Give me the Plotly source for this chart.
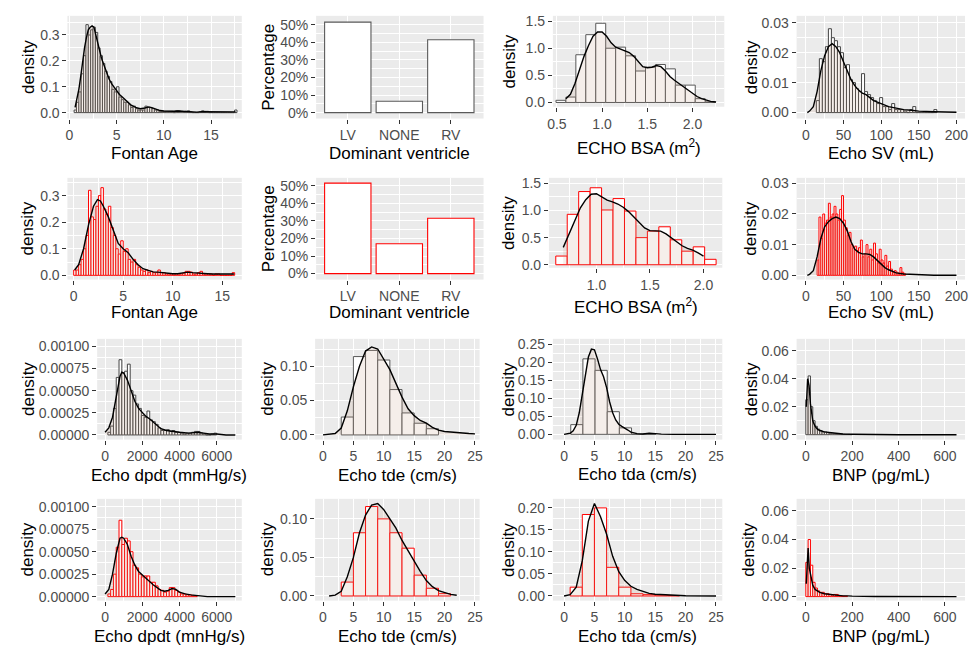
import plotly.graph_objects as go

W, H = 972, 653

# ---------------- data ----------------
# Fontan Age (cohort 1, grey)
fontan1_start, fontan1_width = 0.5, 0.25
fontan1_density = [
    0.01, 0.04, 0.08, 0.15, 0.22, 0.34, 0.30, 0.32,
    0.33, 0.31, 0.25, 0.22, 0.19, 0.16, 0.14, 0.12,
    0.09, 0.08, 0.10, 0.06, 0.05, 0.04, 0.04, 0.03,
    0.02, 0.025, 0.015, 0.01, 0.01, 0.01, 0.025, 0.02,
    0.02, 0.015, 0.01, 0.01, 0.005, 0.005, 0.005, 0.005,
    0.005, 0.005, 0.0, 0.007, 0.007, 0.005, 0.003, 0.005,
    0.007, 0.003, 0.0, 0.0, 0.0, 0.003, 0.007, 0.005,
    0.005, 0.0, 0.0, 0.0, 0.0, 0.0, 0.0, 0.0,
    0.0, 0.0, 0.0, 0.0, 0.01]
fontan1_kx = [0.6, 0.8, 1.0, 1.2, 1.4, 1.6, 1.8, 2.0, 2.2, 2.4, 2.6, 2.8, 3.0, 3.2, 3.4, 3.6, 3.8, 4.0,
              4.2, 4.5, 4.8, 5.0, 5.3, 5.6, 6.0, 6.5, 7.0, 7.5, 8.0, 8.4, 8.8, 9.2, 9.6, 10.0, 10.5,
              11.0, 11.5, 12.0, 12.5, 13.0, 13.5, 14.0, 14.5, 15.0, 16.0, 17.0, 17.6]
fontan1_ky = [0.02, 0.05, 0.09, 0.14, 0.20, 0.25, 0.29, 0.32, 0.33, 0.335, 0.33, 0.30, 0.26, 0.235,
              0.21, 0.19, 0.17, 0.15, 0.13, 0.11, 0.095, 0.085, 0.07, 0.06, 0.045, 0.03, 0.02, 0.015,
              0.018, 0.022, 0.018, 0.012, 0.008, 0.006, 0.005, 0.005, 0.006, 0.005, 0.005, 0.003,
              0.002, 0.004, 0.004, 0.002, 0.002, 0.002, 0.003]

# Fontan Age (cohort 2, red)
fontan2_start, fontan2_width = 0.0, 0.25
fontan2_density = [
    0.02, 0.02, 0.04, 0.06, 0.10, 0.15, 0.32, 0.22,
    0.21, 0.26, 0.30, 0.33, 0.25, 0.23, 0.26, 0.18,
    0.15, 0.10, 0.08, 0.13, 0.09, 0.10, 0.06, 0.05,
    0.06, 0.04, 0.03, 0.02, 0.015, 0.02, 0.01, 0.015,
    0.01, 0.01, 0.02, 0.01, 0.01, 0.005, 0.005, 0.005,
    0.005, 0.005, 0.005, 0.005, 0.008, 0.015, 0.015, 0.012,
    0.005, 0.005, 0.01, 0.015, 0.005, 0.005, 0.005, 0.005,
    0.0, 0.005, 0.005, 0.0, 0.0, 0.0, 0.0, 0.0,
    0.01]
fontan2_kx = [0.1, 0.5, 1.0, 1.5, 2.0, 2.4, 2.7, 3.0, 3.5, 4.0, 4.5, 5.0, 5.5, 6.0, 6.5, 7.0, 7.5,
              8.0, 8.5, 9.0, 9.5, 10.0, 10.5, 11.0, 11.5, 12.0, 12.5, 13.0, 13.5, 14.0, 14.5, 15.0,
              15.5, 16.2]
fontan2_ky = [0.02, 0.04, 0.10, 0.19, 0.26, 0.285, 0.28, 0.26, 0.22, 0.17, 0.12, 0.10, 0.085, 0.06,
              0.04, 0.025, 0.018, 0.013, 0.012, 0.01, 0.007, 0.006, 0.006, 0.008, 0.012, 0.01, 0.008,
              0.008, 0.006, 0.005, 0.005, 0.004, 0.004, 0.005]

# Dominant ventricle
dv_categories = ["LV", "NONE", "RV"]
dv1_pct = [0.515, 0.065, 0.415]
dv2_pct = [0.515, 0.17, 0.315]

# ECHO BSA
bsa1_start, bsa1_width = 0.49, 0.11
bsa1_density = [0.04, 0.10, 0.88, 1.25, 1.46, 1.00, 1.02, 0.86, 0.58, 0.65, 0.70, 0.62, 0.32, 0.32, 0.07, 0.01]
bsa1_kx = [0.6, 0.65, 0.7, 0.75, 0.8, 0.85, 0.9, 0.95, 1.0, 1.05, 1.1, 1.15, 1.2, 1.25, 1.3, 1.35, 1.4,
           1.45, 1.5, 1.55, 1.6, 1.65, 1.7, 1.75, 1.8, 1.85, 1.9, 1.95, 2.0, 2.05, 2.1, 2.15, 2.2, 2.26]
bsa1_ky = [0.07, 0.15, 0.35, 0.60, 0.85, 1.05, 1.22, 1.30, 1.30, 1.22, 1.10, 1.02, 0.99, 0.96, 0.92,
           0.85, 0.75, 0.66, 0.64, 0.65, 0.68, 0.66, 0.58, 0.48, 0.41, 0.35, 0.29, 0.23, 0.16, 0.11,
           0.07, 0.04, 0.02, 0.01]
bsa2_start, bsa2_width = 0.62, 0.107
bsa2_density = [0.16, 0.93, 1.35, 1.42, 1.01, 1.22, 0.99, 0.50, 0.62, 0.70, 0.46, 0.25, 0.33, 0.10]
bsa2_kx = [0.69, 0.75, 0.8, 0.85, 0.9, 0.95, 1.0, 1.05, 1.1, 1.15, 1.2, 1.25, 1.3, 1.35, 1.4, 1.45,
           1.5, 1.55, 1.6, 1.65, 1.7, 1.75, 1.8, 1.85, 1.9, 1.95, 2.0]
bsa2_ky = [0.32, 0.60, 0.85, 1.05, 1.20, 1.30, 1.31, 1.25, 1.19, 1.16, 1.12, 1.06, 0.98, 0.88, 0.78,
           0.68, 0.63, 0.62, 0.62, 0.57, 0.50, 0.43, 0.35, 0.30, 0.27, 0.22, 0.16]

# Echo SV
sv1_start, sv1_width = 14, 4
sv1_density = [
    0.004, 0.018, 0.017, 0.022, 0.028, 0.025, 0.024, 0.022,
    0.020, 0.015, 0.016, 0.011, 0.010, 0.008, 0.007, 0.013,
    0.007, 0.006, 0.005, 0.004, 0.003, 0.005, 0.002, 0.002,
    0.001, 0.003, 0.001, 0.001, 0.001, 0.0005, 0.0, 0.001,
    0.002, 0.0, 0.0, 0.0, 0.0, 0.0, 0.0, 0.001]
sv1_kx = [2, 5, 10, 15, 20, 25, 30, 35, 40, 45, 50, 55, 60, 65, 70, 75, 80, 85, 90, 95, 100, 110,
          120, 130, 140, 150, 170, 200]
sv1_ky = [0.0, 0.0005, 0.002, 0.007, 0.014, 0.019, 0.022, 0.023, 0.022, 0.020, 0.017, 0.014, 0.011,
          0.009, 0.0075, 0.0065, 0.006, 0.005, 0.004, 0.0035, 0.003, 0.002, 0.0015, 0.001, 0.0008,
          0.0005, 0.0003, 0.0001]
sv2_start, sv2_width = 15, 2.5
sv2_density = [
    0.005, 0.019, 0.012, 0.020, 0.017, 0.018, 0.0235, 0.019, 0.020, 0.0225,
    0.020, 0.018, 0.0215, 0.026, 0.018, 0.0155, 0.013, 0.014, 0.010, 0.009,
    0.0095, 0.008, 0.009, 0.0115, 0.006, 0.007, 0.010, 0.006, 0.0085, 0.005,
    0.0105, 0.007, 0.004, 0.0085, 0.005, 0.004, 0.0065, 0.003, 0.0045, 0.002,
    0.001, 0.0015, 0.001, 0.0005, 0.0025, 0.001, 0.0005]
sv2_kx = [2, 5, 10, 15, 20, 25, 30, 35, 40, 45, 50, 55, 60, 65, 70, 75, 80, 85, 90, 95, 100, 105,
          110, 115, 120, 130, 140, 150, 170, 200]
sv2_ky = [0.0, 0.0003, 0.0015, 0.006, 0.012, 0.0158, 0.0175, 0.0185, 0.019, 0.0185, 0.017, 0.0145,
          0.011, 0.0085, 0.0075, 0.007, 0.007, 0.0068, 0.006, 0.0048, 0.0035, 0.0025, 0.0018,
          0.0012, 0.0008, 0.0004, 0.0003, 0.0001, 0.0, 0.0]

# Echo dpdt
dpdt1_start, dpdt1_width = 150, 150
dpdt1_density = [
    0.00003, 0.0001, 0.0003, 0.00065, 0.00085, 0.0007, 0.00072, 0.0008,
    0.0005, 0.00045, 0.00035, 0.0003, 0.00022, 0.0002, 0.00027, 0.00017,
    0.00015, 0.00012, 0.00008, 0.00005, 0.00005, 0.00006, 0.00004, 0.00005,
    0.00003, 0.00003, 0.00002, 0.00001, 0.00002, 0.00002, 0.00003, 0.00004,
    0.00004, 0.00002, 0.00001, 0.0, 0.0, 0.00001, 0.00002]
dpdt1_kx = [0, 200, 400, 600, 800, 900, 1000, 1200, 1400, 1600, 1800, 2000, 2200, 2400, 2600, 2800,
            3000, 3300, 3600, 4000, 4500, 4800, 5000, 5300, 5600, 6000, 6500, 7000]
dpdt1_ky = [0.00003, 0.00008, 0.0002, 0.00045, 0.00066, 0.00071, 0.0007, 0.00062, 0.0005, 0.00038,
            0.0003, 0.00025, 0.00021, 0.00018, 0.00014, 0.0001, 0.00007, 0.00005, 0.00004, 0.00003,
            0.00002, 0.00003, 0.00003, 0.00002, 0.00001, 0.00001, 0.0, 0.0]
dpdt2_start, dpdt2_width = 150, 150
dpdt2_density = [
    0.00003, 0.00008, 0.00025, 0.00055, 0.00085, 0.00058, 0.00065, 0.00062,
    0.0005, 0.00035, 0.00032, 0.00025, 0.00022, 0.00023, 0.00023, 0.00016,
    0.00016, 0.00012, 0.00008, 0.00007, 0.00005, 0.00006, 0.0001, 0.0001,
    0.00007, 0.00005, 0.00003, 0.00003, 0.00002, 0.00002, 0.00001, 0.00001]
dpdt2_kx = [0, 200, 400, 600, 800, 900, 1000, 1200, 1400, 1600, 1800, 2000, 2200, 2400, 2600, 2800,
            3000, 3200, 3400, 3600, 3800, 4000, 4300, 4600, 5000, 5500, 6000, 7000]
dpdt2_ky = [0.00003, 0.00008, 0.00025, 0.00048, 0.00065, 0.00066, 0.00065, 0.00058, 0.00045,
            0.00035, 0.00028, 0.00024, 0.0002, 0.00017, 0.00013, 0.0001, 0.00007, 0.00006, 0.00007,
            0.00009, 0.00008, 0.00005, 0.00003, 0.00002, 0.00001, 0.0, 0.0, 0.0]

# Echo tde
tde1_start, tde1_width = 3, 2
tde1_density = [0.026, 0.114, 0.123, 0.109, 0.066, 0.032, 0.017, 0.009]
tde1_kx = [0, 1, 2, 3, 4, 5, 6, 7, 8, 9, 10, 11, 12, 13, 14, 15, 16, 17, 18, 19, 20, 21, 22, 23, 24, 25]
tde1_ky = [0.0, 0.0005, 0.002, 0.01, 0.035, 0.07, 0.10, 0.122, 0.128, 0.125, 0.11, 0.095, 0.075,
           0.055, 0.038, 0.028, 0.021, 0.017, 0.011, 0.007, 0.005, 0.004, 0.003, 0.0025, 0.002, 0.0015]
tde2_start, tde2_width = 3, 2
tde2_density = [0.018, 0.082, 0.116, 0.10, 0.082, 0.062, 0.027, 0.01, 0.003]
tde2_kx = [1, 2, 3, 4, 5, 6, 7, 8, 9, 10, 11, 12, 13, 14, 15, 16, 17, 18, 19, 20, 21, 22]
tde2_ky = [0.0, 0.001, 0.006, 0.025, 0.05, 0.082, 0.105, 0.118, 0.12, 0.112, 0.10, 0.088, 0.072,
           0.058, 0.045, 0.032, 0.02, 0.012, 0.007, 0.004, 0.002, 0.001]

# Echo tda
tda1_start, tda1_width = 1.1, 2
tda1_density = [0.027, 0.21, 0.178, 0.063, 0.018, 0.0, 0.002]
tda1_kx = [0, 1, 1.5, 2, 2.5, 3, 3.5, 4, 4.5, 5, 5.5, 6, 6.5, 7, 7.5, 8, 8.5, 9, 9.5, 10, 10.5, 11,
           12, 13, 14, 15, 16, 18, 25]
tda1_ky = [0.0, 0.003, 0.01, 0.025, 0.06, 0.11, 0.17, 0.215, 0.237, 0.235, 0.21, 0.18, 0.16, 0.13,
           0.09, 0.06, 0.04, 0.028, 0.022, 0.018, 0.012, 0.006, 0.002, 0.001, 0.003, 0.002, 0.0005,
           0.0, 0.0]
tda2_start, tda2_width = 1, 2
tda2_density = [0.02, 0.185, 0.20, 0.065, 0.02, 0.005, 0.003, 0.002, 0.001]
tda2_kx = [0, 1, 2, 3, 4, 5, 6, 7, 8, 9, 10, 11, 12, 13, 14, 15, 16, 17, 18, 20, 25]
tda2_ky = [0.0, 0.003, 0.02, 0.08, 0.17, 0.21, 0.18, 0.14, 0.09, 0.055, 0.035, 0.022, 0.015, 0.01,
           0.006, 0.004, 0.003, 0.002, 0.001, 0.0005, 0.0]

# BNP
bnp1_start, bnp1_width = 0, 10
bnp1_density = [0.025, 0.042, 0.02, 0.01, 0.006, 0.004, 0.003, 0.002, 0.002, 0.0015,
                0.001, 0.001, 0.0008, 0.0005, 0.0005, 0.0003, 0.0003, 0.0002, 0.0002, 0.0001]
bnp1_kx = [2, 8, 14, 20, 30, 40, 50, 60, 80, 100, 130, 160, 200, 300, 400, 650]
bnp1_ky = [0.02, 0.04, 0.035, 0.022, 0.01, 0.006, 0.004, 0.003, 0.002, 0.0015, 0.001, 0.0005,
           0.0003, 0.0001, 0.0, 0.0]
bnp2_start, bnp2_width = 0, 10
bnp2_density = [0.024, 0.04, 0.022, 0.01, 0.006, 0.004, 0.003, 0.003, 0.002, 0.002,
                0.0015, 0.001, 0.0015, 0.0015, 0.0005, 0.0005, 0.0003, 0.0003]
bnp2_kx = [2, 5, 10, 15, 20, 25, 30, 40, 50, 60, 80, 100, 120, 140, 160, 180, 200, 300, 400, 650]
bnp2_ky = [0.009, 0.024, 0.034, 0.02, 0.015, 0.012, 0.008, 0.005, 0.004, 0.003, 0.002, 0.0015,
           0.0012, 0.0008, 0.0005, 0.0005, 0.0003, 0.0001, 0.0, 0.0]

# ---------------- styling ----------------
GREY_LINE = "#454545"
RED_LINE = "#FF0000"
DENS_FILL = "rgba(195,150,125,0.16)"
PANEL_BG = "#EBEBEB"
FONT = "Liberation Sans, Arial, sans-serif"
TICK_FONT = dict(family=FONT, size=14, color="#4D4D4D")
TITLE_SIZE = 17

fig = go.Figure()
annotations = []


def centers(start, width, n):
    return [start + width * (i + 0.5) for i in range(n)]


panels = []


def add_hist(idx, start, width, dens, kx, ky, outline):
    xa = "x" if idx == 1 else f"x{idx}"
    ya = "y" if idx == 1 else f"y{idx}"
    fig.add_trace(go.Bar(
        x=centers(start, width, len(dens)), y=dens, width=[width] * len(dens),
        marker=dict(color="white", line=dict(color=outline, width=1.0)),
        xaxis=xa, yaxis=ya, showlegend=False))
    fig.add_trace(go.Scatter(
        x=kx, y=ky, mode="lines", fill="tozeroy", fillcolor=DENS_FILL,
        line=dict(color="black", width=1.4), xaxis=xa, yaxis=ya, showlegend=False))


def add_dv(idx, vals, outline):
    xa = "x" if idx == 1 else f"x{idx}"
    ya = "y" if idx == 1 else f"y{idx}"
    fig.add_trace(go.Bar(
        x=dv_categories, y=vals, width=0.9,
        marker=dict(color="white", line=dict(color=outline, width=1.1)),
        xaxis=xa, yaxis=ya, showlegend=False))


# Row 1
add_hist(1, fontan1_start, fontan1_width, fontan1_density, fontan1_kx, fontan1_ky, GREY_LINE)
panels.append(((62, 238, 13, 117), [-0.21, 18.26], [-0.023, 0.374], 5, 0.1, "d", ".1f",
               "Fontan Age", 152, "density", 22))
add_dv(2, dv1_pct, "#595959")
panels.append(((313, 482, 13, 117), [-0.615, 2.635], [-0.034, 0.551], None, 0.1, None, ".0%",
               "Dominant ventricle", 152, "Percentage", 265))
add_hist(3, bsa1_start, bsa1_width, bsa1_density, bsa1_kx, bsa1_ky, "#595959")
panels.append(((552, 725, 13, 105), [0.456, 2.351], [-0.078, 1.597], 0.5, 0.5, ".1f", ".1f",
               "ECHO BSA (m<sup>2</sup>)", 146, "density", 508))
add_hist(4, sv1_start, sv1_width, sv1_density, sv1_kx, sv1_ky, GREY_LINE)
panels.append(((798, 968, 13, 117), [-12.2, 211.4], [-0.002, 0.0323], 50, 0.01, "d", ".2f",
               "Echo SV (mL)", 152, "density", 752))

# Row 2
add_hist(5, fontan2_start, fontan2_width, fontan2_density, fontan2_kx, fontan2_ky, RED_LINE)
panels.append(((62, 238, 177, 280), [-0.63, 16.97], [-0.016, 0.367], 5, 0.1, "d", ".1f",
               "Fontan Age", 313, "density", 22))
add_dv(6, dv2_pct, RED_LINE)
panels.append(((313, 482, 177, 280), [-0.615, 2.635], [-0.034, 0.545], None, 0.1, None, ".0%",
               "Dominant ventricle", 313, "Percentage", 265))
add_hist(7, bsa2_start, bsa2_width, bsa2_density, bsa2_kx, bsa2_ky, RED_LINE)
panels.append(((548, 723, 177, 268), [0.556, 2.176], [-0.055, 1.603], 0.5, 0.5, ".1f", ".1f",
               "ECHO BSA (m<sup>2</sup>)", 307, "density", 507))
add_hist(8, sv2_start, sv2_width, sv2_density, sv2_kx, sv2_ky, RED_LINE)
panels.append(((798, 968, 177, 280), [-12.2, 211.4], [-0.0014, 0.0318], 50, 0.01, "d", ".2f",
               "Echo SV (mL)", 313, "density", 752))

# Row 3
add_hist(9, dpdt1_start, dpdt1_width, dpdt1_density, dpdt1_kx, dpdt1_ky, GREY_LINE)
panels.append(((92, 238, 340, 442), [-426, 7348], [-0.0000525, 0.001086], 2000, 0.00025, "d", ".5f",
               "Echo dpdt (mmHg/s)", 478, "density", 22))
add_hist(10, tde1_start, tde1_width, tde1_density, tde1_kx, tde1_ky, "#595959")
panels.append(((312, 478, 340, 442), [-1.3, 25.76], [-0.0068, 0.1398], 5, 0.05, "d", ".2f",
               "Echo tde (cm/s)", 478, "density", 264))
add_hist(11, tda1_start, tda1_width, tda1_density, tda1_kx, tda1_ky, "#595959")
panels.append(((552, 723, 340, 442), [-1.84, 26.04], [-0.0146, 0.2657], 5, 0.05, "d", ".2f",
               "Echo tda (cm/s)", 477, "density", 507))
add_hist(12, bnp1_start, bnp1_width, bnp1_density, bnp1_kx, bnp1_ky, GREY_LINE)
panels.append(((798, 968, 340, 442), [-39.7, 686.8], [-0.0035, 0.0685], 200, 0.02, "d", ".2f",
               "BNP (pg/mL)", 478, "density", 752))

# Row 4
add_hist(13, dpdt2_start, dpdt2_width, dpdt2_density, dpdt2_kx, dpdt2_ky, RED_LINE)
panels.append(((92, 238, 502, 605), [-426, 7348], [-0.000044, 0.001088], 2000, 0.00025, "d", ".5f",
               "Echo dpdt (mnHg/s)", 641, "density", 22))
add_hist(14, tde2_start, tde2_width, tde2_density, tde2_kx, tde2_ky, RED_LINE)
panels.append(((312, 478, 502, 605), [-1.3, 25.76], [-0.006, 0.126], 5, 0.05, "d", ".2f",
               "Echo tde (cm/s)", 641, "density", 264))
add_hist(15, tda2_start, tda2_width, tda2_density, tda2_kx, tda2_ky, RED_LINE)
panels.append(((552, 723, 502, 605), [-1.84, 26.04], [-0.0105, 0.2205], 5, 0.05, "d", ".2f",
               "Echo tda (cm/s)", 641, "density", 507))
add_hist(16, bnp2_start, bnp2_width, bnp2_density, bnp2_kx, bnp2_ky, RED_LINE)
panels.append(((798, 968, 502, 605), [-39.7, 686.8], [-0.0028, 0.0685], 200, 0.02, "d", ".2f",
               "BNP (pg/mL)", 641, "density", 750))

layout = dict(
    width=W, height=H, margin=dict(l=0, r=0, t=0, b=0),
    paper_bgcolor="white", plot_bgcolor=PANEL_BG,
    font=dict(family=FONT, color="black"),
    barmode="overlay", showlegend=False,
)

for i, (box, xr, yr, xdt, ydt, xfmt, yfmt, xt, xty, yt, ytx) in enumerate(panels, start=1):
    x0, x1, y0, y1 = box
    sfx = "" if i == 1 else str(i)
    xa = dict(domain=[x0 / W, x1 / W], range=xr, anchor="y" + sfx,
              showgrid=True, gridcolor="white", gridwidth=1.4, zeroline=False, showline=False,
              ticks="outside", ticklen=4, tickwidth=1, tickcolor="#333333",
              tickfont=TICK_FONT, fixedrange=True)
    if xdt is None:
        xa.update(type="category", categoryorder="array", categoryarray=dv_categories)
    else:
        xa.update(dtick=xdt, tick0=0, tickformat=xfmt,
                  minor=dict(dtick=xdt / 2, showgrid=True, gridcolor="white", gridwidth=0.7))
    ya = dict(domain=[1 - y1 / H, 1 - y0 / H], range=yr, anchor="x" + sfx,
              showgrid=True, gridcolor="white", gridwidth=1.4, zeroline=False, showline=False,
              ticks="outside", ticklen=4, tickwidth=1, tickcolor="#333333",
              tickfont=TICK_FONT, dtick=ydt, tick0=0, tickformat=yfmt, fixedrange=True,
              minor=dict(dtick=ydt / 2, showgrid=True, gridcolor="white", gridwidth=0.7))
    layout["xaxis" + sfx] = xa
    layout["yaxis" + sfx] = ya
    annotations.append(dict(text=xt, x=(x0 + x1) / 2 / W, y=1 - xty / H, xref="paper", yref="paper",
                            xanchor="center", yanchor="middle", showarrow=False,
                            font=dict(family=FONT, size=TITLE_SIZE, color="black")))
    annotations.append(dict(text=yt, x=ytx / W, y=1 - (y0 + y1) / 2 / H, xref="paper", yref="paper",
                            xanchor="center", yanchor="middle", showarrow=False, textangle=-90,
                            font=dict(family=FONT, size=TITLE_SIZE, color="black")))

layout["annotations"] = annotations
fig.update_layout(**layout)
fig.write_html("out.html", config={"displayModeBar": False},
               post_script="document.body.style.margin='0';document.body.style.overflow='hidden';")
